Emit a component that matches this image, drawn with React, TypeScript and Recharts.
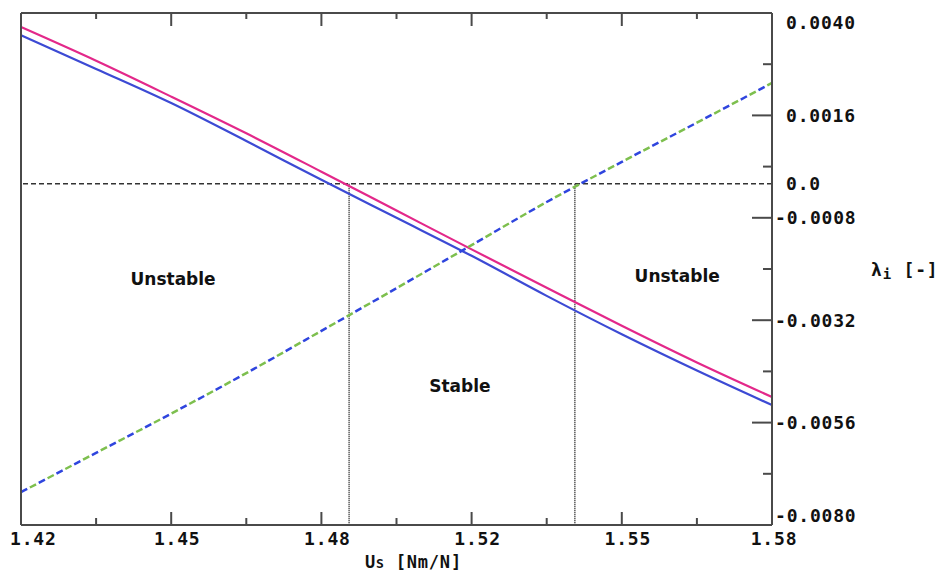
import { LineChart, Line, XAxis, YAxis, ReferenceLine, ReferenceDot } from 'recharts';

// U_s values the curves were sampled at
const usValues = [1.42, 1.436, 1.452, 1.468, 1.484, 1.5, 1.516, 1.532, 1.548, 1.564, 1.58];
// eigenvalue branches
const lambdaUpper = [0.00367, 0.00288, 0.00204, 0.00118, 0.00028, -0.00063, -0.00154, -0.00244, -0.00333, -0.00419, -0.005];
const lambdaLower = [0.00348, 0.00269, 0.00189, 0.001, 0.00009, -0.0008, -0.00169, -0.00263, -0.00353, -0.00438, -0.00519];
const lambdaRising = [-0.00723, -0.00631, -0.00539, -0.00444, -0.00345, -0.00245, -0.00144, -0.00043, 0.00051, 0.00143, 0.00236];

const xMajorTicks = [1.42, 1.452, 1.484, 1.516, 1.548, 1.58];
const xMinorTicks = [1.436, 1.468, 1.5, 1.532, 1.564];
const xTickLabels = ['1.42', '1.45', '1.48', '1.52', '1.55', '1.58'];

const yMajorTicks = [0.004, 0.0016, -0.0008, -0.0032, -0.0056, -0.008];
const yMinorTicks = [0.0028, 0.0004, -0.002, -0.0044, -0.0068];
const yLabelTicks = [0.004, 0.0016, 0, -0.0008, -0.0032, -0.0056, -0.008];
const yTickLabels = ['0.0040', '0.0016', '0.0', '-0.0008', '-0.0032', '-0.0056', '-0.0080'];

const stabilityLimits = [1.4899, 1.538];
const regionNames = ['Unstable', 'Stable', 'Unstable'];
const regionUs = [1.4524, 1.5135, 1.5598];
const regionLambda = [-0.00223, -0.00474, -0.00216];

const data = usValues.map((us, i) => ({
  us,
  upper: lambdaUpper[i],
  lower: lambdaLower[i],
  risingBlue: lambdaRising[i],
  risingGreen: lambdaRising[i],
}));

const AXIS = '#4a4a4a';
const MONO = '"DejaVu Sans Mono", monospace';
const near = (list: number[], v: number) => list.findIndex(t => Math.abs(t - v) < 1e-9);

const xAll = [...xMajorTicks, ...xMinorTicks].sort((a, b) => a - b);
const yAll = [...yMajorTicks, ...yMinorTicks, 0].sort((a, b) => b - a);

const monoText = { fontFamily: MONO, fontWeight: 700, fontSize: 18, letterSpacing: 0.8, fill: '#111' };

function BottomTick({ x, y, payload }: any) {
  const i = near(xMajorTicks, payload.value);
  const len = i >= 0 ? 13 : 7;
  let label = null;
  if (i >= 0) {
    let tx = x + 6;
    let anchor = 'middle';
    if (i === 0) { tx = x - 11; anchor = 'start'; }
    if (i === xMajorTicks.length - 1) tx = x + 2;
    label = <text x={tx} y={y + 20} textAnchor={anchor} {...monoText}>{xTickLabels[i]}</text>;
  }
  return (
    <g>
      <line x1={x} x2={x} y1={y} y2={y - len} stroke={AXIS} strokeWidth={2} />
      {label}
    </g>
  );
}

function TopTick({ x, y, payload }: any) {
  const len = near(xMajorTicks, payload.value) >= 0 ? 13 : 6;
  return <line x1={x} x2={x} y1={y} y2={y + len} stroke={AXIS} strokeWidth={2} />;
}

function LeftTick({ x, y, payload }: any) {
  const v = payload.value;
  if (near(yMajorTicks, v) < 0 && near(yMinorTicks, v) < 0) return <g />;
  const len = near(yMajorTicks, v) >= 0 ? 20 : 10;
  return <line x1={x} x2={x + len} y1={y} y2={y} stroke={AXIS} strokeWidth={2} />;
}

function RightTick({ x, y, payload }: any) {
  const v = payload.value;
  const major = near(yMajorTicks, v) >= 0;
  const minor = near(yMinorTicks, v) >= 0;
  const li = near(yLabelTicks, v);
  let cy = y;
  if (li === 0) cy = y + 9;
  if (li === yLabelTicks.length - 1) cy = y - 10;
  return (
    <g>
      {(major || minor) && (
        <line x1={x - (major ? 20 : 9)} x2={x} y1={y} y2={y} stroke={AXIS} strokeWidth={2} />
      )}
      {li >= 0 && (
        <text x={v < 0 ? x + 3 : x + 14} y={cy + 6.5} textAnchor="start" {...monoText}>
          {yTickLabels[li]}
        </text>
      )}
    </g>
  );
}

function XTitle({ viewBox }: any) {
  return (
    <text x={viewBox.x + 344} y={viewBox.y + 43} {...monoText} fontSize={17}>
      U<tspan fontSize={13}>S</tspan> [Nm/N]
    </text>
  );
}

function YTitle({ viewBox }: any) {
  return (
    <text x={viewBox.x + 99} y={276} {...monoText} fontSize={18}>
      λ<tspan fontSize={14} dy={3}>i</tspan>
      <tspan dy={-3}> [-]</tspan>
    </text>
  );
}

function RegionText(name: string) {
  return (p: any) => (
    <text
      x={p.cx}
      y={p.cy}
      dy="0.35em"
      textAnchor="middle"
      fontFamily='"DejaVu Sans", sans-serif'
      fontWeight={700}
      fontSize={17}
      fill="#111"
    >
      {name}
    </text>
  );
}

export default function App() {
  return (
    <div style={{ position: 'absolute', left: 0, top: 0, width: 942, height: 574, background: '#fff' }}>
      <LineChart width={942} height={574} data={data} margin={{ top: 0, right: 0, bottom: 0, left: 0 }}>
        <XAxis
          xAxisId="bottom"
          dataKey="us"
          type="number"
          domain={[1.42, 1.58]}
          ticks={xAll}
          interval={0}
          height={49}
          tickSize={0}
          tickMargin={0}
          tickLine={false}
          axisLine={{ stroke: AXIS, strokeWidth: 2 }}
          tick={<BottomTick />}
          label={<XTitle />}
        />
        <XAxis
          xAxisId="top"
          orientation="top"
          dataKey="us"
          type="number"
          domain={[1.42, 1.58]}
          ticks={xAll}
          interval={0}
          height={13}
          tickSize={0}
          tickMargin={0}
          tickLine={false}
          axisLine={{ stroke: AXIS, strokeWidth: 2 }}
          tick={<TopTick />}
        />
        <YAxis
          yAxisId="left"
          type="number"
          domain={[-0.008, 0.004]}
          ticks={yAll}
          interval={0}
          width={21}
          tickSize={0}
          tickMargin={0}
          tickLine={false}
          axisLine={{ stroke: AXIS, strokeWidth: 2 }}
          tick={<LeftTick />}
        />
        <YAxis
          yAxisId="right"
          orientation="right"
          type="number"
          domain={[-0.008, 0.004]}
          ticks={yAll}
          interval={0}
          width={170}
          tickSize={0}
          tickMargin={0}
          tickLine={false}
          axisLine={{ stroke: AXIS, strokeWidth: 2 }}
          tick={<RightTick />}
          label={<YTitle />}
        />

        <ReferenceLine xAxisId="bottom" yAxisId="right" y={0} stroke="#333" strokeWidth={1.5} strokeDasharray="5 3" />
        {stabilityLimits.map(s => (
          <ReferenceLine
            key={s}
            xAxisId="bottom"
            yAxisId="right"
            segment={[{ x: s, y: 0 }, { x: s, y: -0.008 }]}
            stroke="#222"
            strokeWidth={1.5}
            strokeDasharray="1 1"
          />
        ))}

        <Line xAxisId="bottom" yAxisId="right" dataKey="upper" stroke="#e3288a" strokeWidth={2.2} dot={false} type="monotone" isAnimationActive={false} />
        <Line xAxisId="bottom" yAxisId="right" dataKey="lower" stroke="#3c4ad4" strokeWidth={2.2} dot={false} type="monotone" isAnimationActive={false} />
        <Line xAxisId="bottom" yAxisId="right" dataKey="risingGreen" stroke="#7dbf4e" strokeWidth={2.5} strokeDasharray="7 13" strokeDashoffset={10} dot={false} type="monotone" isAnimationActive={false} />
        <Line xAxisId="bottom" yAxisId="right" dataKey="risingBlue" stroke="#2f45de" strokeWidth={2.5} strokeDasharray="7 13" dot={false} type="monotone" isAnimationActive={false} />

        {regionNames.map((name, i) => (
          <ReferenceDot
            key={i}
            xAxisId="bottom"
            yAxisId="right"
            x={regionUs[i]}
            y={regionLambda[i]}
            r={0}
            shape={RegionText(name)}
          />
        ))}
      </LineChart>
    </div>
  );
}
